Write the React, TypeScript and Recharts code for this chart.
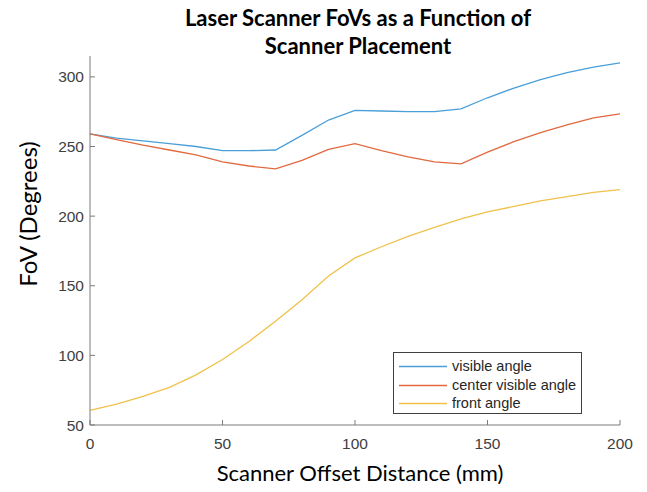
import { LineChart, Line, XAxis, YAxis } from 'recharts';

const offsets = [0, 10, 20, 30, 40, 50, 60, 70, 80, 90, 100, 110, 120, 130, 140, 150, 160, 170, 180, 190, 200];
const visibleAngle = [259, 256, 254, 252, 250, 247, 247, 247.5, 258, 269, 276, 275.5, 275, 275, 277, 285, 292, 298, 303, 307, 310];
const centerVisibleAngle = [259, 255, 251, 247.5, 244, 239, 236, 234, 240, 248, 252, 247, 242.5, 239, 237.5, 246, 253.5, 260, 265.5, 270.5, 273.5];
const frontAngle = [60.5, 65, 70.5, 77, 86, 97, 110, 124.5, 140, 157, 170, 178, 185.5, 192, 198, 203, 207, 211, 214, 217, 219];

const xTicks = [0, 50, 100, 150, 200];
const yTicks = [50, 100, 150, 200, 250, 300];

const series = [
  { key: 'visible', name: 'visible angle', color: '#4a9fd9' },
  { key: 'center', name: 'center visible angle', color: '#e06a3e' },
  { key: 'front', name: 'front angle', color: '#f0c14b' },
];

const data = offsets.map((x, i) => ({
  x,
  visible: visibleAngle[i],
  center: centerVisibleAngle[i],
  front: frontAngle[i],
}));

const tickColor = '#404040';
const axisColor = '#7a7a7a';
const tickFont = 'Liberation Sans, Arial, sans-serif';

function YTick({ x, y, payload }: any) {
  return (
    <g>
      <line x1={x} y1={y} x2={x + 5} y2={y} stroke={axisColor} />
      <text x={x - 6} y={y} dy={5.5} textAnchor="end" fontSize={15.5} fill={tickColor} fontFamily={tickFont}>
        {payload.value}
      </text>
    </g>
  );
}

function XTick({ x, y, payload }: any) {
  return (
    <g>
      <line x1={x} y1={y} x2={x} y2={y - 5} stroke={axisColor} />
      <text x={x} y={y + 24} textAnchor="middle" fontSize={15.5} fill={tickColor} fontFamily={tickFont}>
        {payload.value}
      </text>
    </g>
  );
}

// legend drawn as a small svg so the sample lines land on whole pixels
function LegendBox() {
  return (
    <svg
      width={189}
      height={62}
      style={{ position: 'absolute', left: 393, top: 352 }}
    >
      <rect x={0.5} y={0.5} width={188} height={61} fill="white" stroke="#404040" />
      {series.map((s, i) => {
        const cy = 14 + i * 18.5;
        return (
          <g key={s.key}>
            <line x1={6} x2={54} y1={Math.round(cy) + 0.5} y2={Math.round(cy) + 0.5} stroke={s.color} strokeWidth={1.5} />
            <text x={59} y={cy} dy={5} fontSize={14.5} fontFamily={tickFont} fill="#262626">
              {s.name}
            </text>
          </g>
        );
      })}
    </svg>
  );
}

export default function App() {
  return (
    <div style={{ position: 'absolute', left: 0, top: 0, width: 647, height: 492, background: 'white' }}>
      <div
        style={{
          position: 'absolute',
          left: 0,
          width: 716,
          top: 4,
          textAlign: 'center',
          fontFamily: 'Lato, "Open Sans", sans-serif',
          fontWeight: 'bold',
          fontSize: 22,
          lineHeight: '28px',
          color: '#000',
        }}
      >
        Laser Scanner FoVs as a Function of
        <br />
        Scanner Placement
      </div>
      <div
        style={{
          position: 'absolute',
          left: 0,
          width: 720,
          top: 459,
          textAlign: 'center',
          fontFamily: 'Lato, "Open Sans", sans-serif',
          fontSize: 22,
          color: '#000',
        }}
      >
        Scanner Offset Distance (mm)
      </div>
      <div
        style={{
          position: 'absolute',
          left: 27,
          top: 214,
          transform: 'translate(-50%, -50%) rotate(-90deg)',
          whiteSpace: 'nowrap',
          fontFamily: 'Lato, "Open Sans", sans-serif',
          fontSize: 24,
          color: '#000',
        }}
      >
        FoV (Degrees)
      </div>
      <LineChart width={647} height={492} data={data} margin={{ top: 56, right: 27, bottom: 37, left: 30 }}>
        <XAxis
          dataKey="x"
          type="number"
          domain={[0, 200]}
          ticks={xTicks}
          height={30}
          tickSize={0}
          tickMargin={0}
          tickLine={false}
          tick={<XTick />}
          stroke={axisColor}
          interval={0}
        />
        <YAxis
          type="number"
          domain={[50, 315]}
          ticks={yTicks}
          width={60}
          tickSize={0}
          tickMargin={0}
          tickLine={false}
          tick={<YTick />}
          stroke={axisColor}
          allowDataOverflow
          interval={0}
        />
        {series.map((s) => (
          <Line
            key={s.key}
            type="linear"
            dataKey={s.key}
            name={s.name}
            stroke={s.color}
            strokeWidth={1.3}
            dot={false}
            isAnimationActive={false}
          />
        ))}
      </LineChart>
      <LegendBox />
    </div>
  );
}
